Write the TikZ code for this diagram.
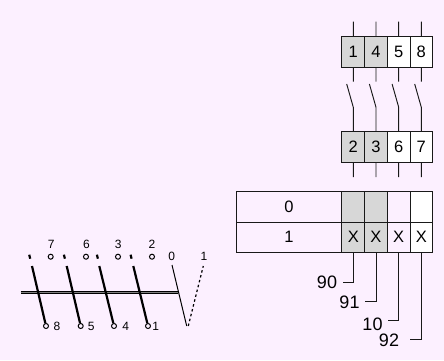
\documentclass[tikz,border=0pt]{standalone}
\usepackage{fontspec}
\setmainfont{Liberation Sans}
\usepackage{tikz}
\usetikzlibrary{positioning}

\definecolor{bgpink}{RGB}{252,240,255}
\definecolor{cellgrey}{RGB}{215,215,215}
\definecolor{inkgrey}{RGB}{25,25,25}

\tikzset{
    cell/.style={draw=inkgrey,line width=0.95pt,minimum width=22.67pt,minimum height=30.6pt,
                 inner sep=0pt,outer sep=0pt,font=\fontsize{16.5}{16.5}\selectfont},
    greycell/.style={cell,fill=cellgrey},
    whitecell/.style={cell,fill=white},
    wide/.style={cell,minimum width=106pt},
    wire/.style={draw=inkgrey,line width=0.95pt},
    contact/.style={black,line width=2.2pt},
    ring/.style={circle,draw=black,line width=1pt,minimum size=5pt,inner sep=0pt},
    small/.style={inner sep=0pt,font=\fontsize{12}{12}\selectfont},
    big/.style={inner sep=0pt,font=\fontsize{18}{18}\selectfont}
}

\begin{document}
\begin{tikzpicture}[x=1pt,y=-1pt,node distance=22.67pt]

        \fill[bgpink] (0,0) rectangle (444,360);
        \useasboundingbox (0,0) rectangle (444,360);

        % upper row of contacts
        \node[greycell]  (c1) at (353.3,52) {1};
        \node[greycell]  (c4) [right of=c1] {4};
        \node[whitecell] (c5) [right of=c4] {5};
        \node[whitecell] (c8) [right of=c5] {8};

        % lower row of contacts
        \node[greycell]  (c2) at (353.3,146.7) {2};
        \node[greycell]  (c3) [right of=c2] {3};
        \node[whitecell] (c6) [right of=c3] {6};
        \node[whitecell] (c7) [right of=c6] {7};

        \coordinate (t1) at (353.3,21.7);
        \coordinate (t4) at (376,21.7);
        \coordinate (t5) at (398.7,21.7);
        \coordinate (t8) at (421.3,21.7);
        \coordinate (u1) at (353.3,81.7);
        \coordinate (u4) at (376,81.7);
        \coordinate (u5) at (398.7,81.7);
        \coordinate (u8) at (421.3,81.7);
        \coordinate (b2) at (353.3,177);
        \coordinate (b3) at (376,177);
        \coordinate (b6) at (398.7,177);
        \coordinate (b7) at (421.3,177);

        % switch blades between the rows
        \coordinate (h1) at (346.7,84);
        \coordinate (h4) at (369.4,84);
        \coordinate (h5) at (392.1,84);
        \coordinate (h8) at (414.7,84);
        \coordinate (j1) at (353.3,107.3);
        \coordinate (j4) at (376,107.3);
        \coordinate (j5) at (398.7,107.3);
        \coordinate (j8) at (421.3,107.3);

        \draw[wire] (t1) -- (c1) (c1) -- (u1) (h1) -- (j1) -- (c2) (c2) -- (b2);
        \draw[wire] (t4) -- (c4) (c4) -- (u4) (h4) -- (j4) -- (c3) (c3) -- (b3);
        \draw[wire] (t5) -- (c5) (c5) -- (u5) (h5) -- (j5) -- (c6) (c6) -- (b6);
        \draw[wire] (t8) -- (c8) (c8) -- (u8) (h8) -- (j8) -- (c7) (c7) -- (b7);

        % table
        \node[wide]      (r0) at (289,206.7)  {0};
        \node[wide]      (r1) at (289,237.3)  {1};
        \node[greycell]  (a1) at (353.3,206.7) {};
        \node[greycell]  (a2) [right of=a1]   {};
        \node[cell]      (a3) [right of=a2]   {};
        \node[whitecell] (a4) [right of=a3]   {};
        \node[greycell]  (x1) at (353.3,237.3) {X};
        \node[greycell]  (x2) [right of=x1]   {X};
        \node[cell]      (x3) [right of=x2]   {X};
        \node[whitecell] (x4) [right of=x3]   {X};

        % numbers under the table
        \node[big] (n90) at (327,282.5) {90};
        \node[big] (n91) at (349.5,302) {91};
        \node[big] (n10) at (372.5,324.5) {10};
        \node[big] (n92) at (389,340.5) {92};

        \coordinate (l90) at (342.7,282.3);
        \coordinate (l91) at (365,301.7);
        \coordinate (l10) at (387.7,320.7);
        \coordinate (l92) at (410,339.3);

        \draw[wire] (x1.south) |- (l90);
        \draw[wire] (x2.south) |- (l91);
        \draw[wire] (x3.south) |- (l10);
        \draw[wire] (x4.south) |- (l92);

        % shaft with its contacts
        \coordinate (s0) at (20.7,292.7);
        \coordinate (s1) at (178,292.7);
        \draw[black,line width=1pt,double=gray,double distance=1.2pt] (s0) -- (s1);

        \node[ring] (o7) at (50.7,256.7) {};
        \node[ring] (o6) at (86,256.7)   {};
        \node[ring] (o3) at (118,256.7)  {};
        \node[ring] (o2) at (152,256.7)  {};
        \node[ring] (o8) at (46,326)     {};
        \node[ring] (o5) at (80.7,326)   {};
        \node[ring] (o4) at (114,326)    {};
        \node[ring] (o1) at (148,326)    {};

        \node[small] (n7) at (51.3,244.7) {7};
        \node[small] (n6) at (86.5,244.7) {6};
        \node[small] (n3) at (118.3,244.7) {3};
        \node[small] (n2) at (152,244.7)  {2};
        \node[small] (n0) at (171.7,256)  {0};
        \node[small] (n1) at (204,256)    {1};
        \node[small] (n8) at (57,326)     {8};
        \node[small] (n5) at (91.3,326)   {5};
        \node[small] (n4) at (125.7,326)  {4};
        \node[small] (m1) at (155.7,326)  {1};

        \coordinate (k8) at (32,266);
        \coordinate (k5) at (66.7,266);
        \coordinate (k4) at (99.3,266);
        \coordinate (k1) at (133.3,266);
        \draw[contact] (k8) -- (o8);
        \draw[contact] (k5) -- (o5);
        \draw[contact] (k4) -- (o4);
        \draw[contact] (k1) -- (o1);

        \coordinate (q8) at (29.2,254.7);
        \coordinate (p8) at (30.2,258.7);
        \coordinate (q5) at (63.9,254.7);
        \coordinate (p5) at (64.9,258.7);
        \coordinate (q4) at (96.9,254.7);
        \coordinate (p4) at (97.9,258.7);
        \coordinate (q1) at (130.6,254.7);
        \coordinate (p1) at (131.6,258.7);
        \draw[contact] (q8) -- (p8);
        \draw[contact] (q5) -- (p5);
        \draw[contact] (q4) -- (p4);
        \draw[contact] (q1) -- (p1);

        % main switch
        \coordinate (w0) at (172,265);
        \coordinate (w1) at (186.7,326);
        \coordinate (v0) at (188.3,326);
        \coordinate (v1) at (203.3,266);
        \draw[black,line width=1pt] (w0) -- (w1);
        \draw[black,line width=1.2pt,dash pattern=on 2.5pt off 2.5pt] (v0) -- (v1);

\end{tikzpicture}
\end{document}
